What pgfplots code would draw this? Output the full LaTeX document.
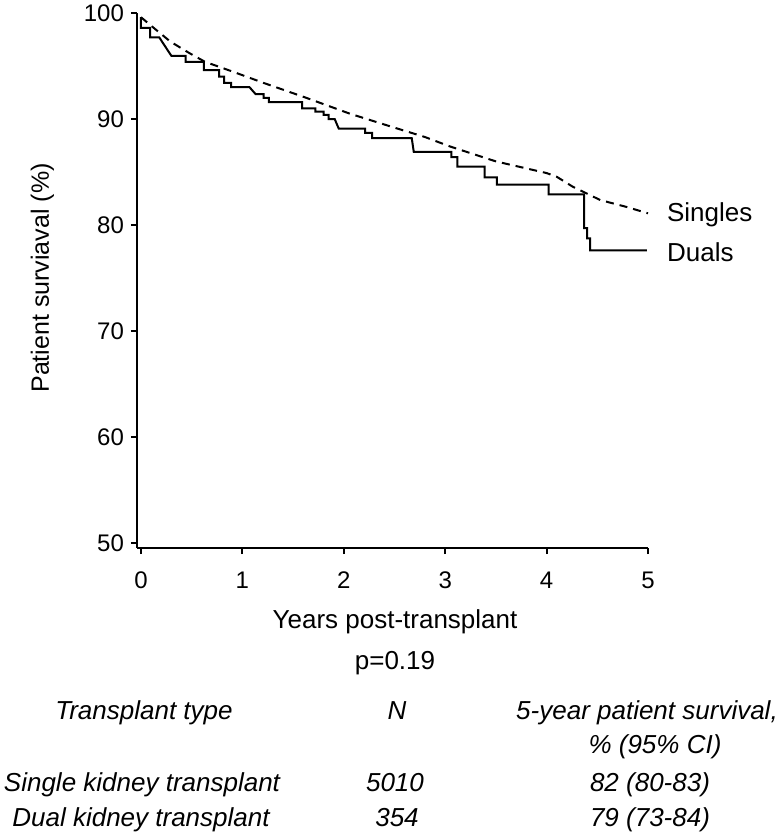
\documentclass[border=0pt]{standalone}
\usepackage{fontspec}
\setmainfont{Liberation Sans}
\usepackage{pgfplots}
\pgfplotsset{compat=1.18}
\begin{document}
\begin{tikzpicture}[font=\fontsize{13}{15.5}\selectfont]
\useasboundingbox (-68.5pt,-143.5pt) rectangle (321.5pt,274pt);
\begin{axis}[
  at={(0pt,0pt)}, anchor=south west,
  scale only axis, width=255.5pt, height=267.5pt,
  xmin=-0.0394, xmax=5, ymin=49.53, ymax=100,
  axis x line=bottom, axis y line=left,
  x axis line style={-}, y axis line style={-},
  axis line style={line width=0.9pt},
  xtick={0,1,2,3,4,5}, ytick={50,60,70,80,90,100},
  tick align=outside, major tick length=3pt,
  tick style={line width=0.9pt, black},
  tick label style={font=\fontsize{12}{14}\selectfont},
  xticklabel style={yshift=-5.5pt},
  /pgf/number format/assume math mode=true,
  clip=false,
]
\addplot[black, line width=1pt, dash pattern=on 4pt off 3pt] coordinates {
(0,99.6) (0.15,98.4) (0.29,97.3) (0.48,96.2) (0.63,95.4) (0.91,94.45) (1.21,93.4) (1.6,92.1) (2.06,90.5) (2.46,89.3) (2.8,88.3) (3.05,87.4) (3.5,86.0) (4.0,84.9) (4.1,84.55) (4.26,83.6) (4.39,83.0) (4.53,82.35) (4.79,81.7) (5.0,81.1)
};
\addplot[black, line width=1pt] coordinates {
(0,99.6) (0,98.6) (0.09,98.6) (0.09,97.7) (0.18,97.7) (0.30,95.95) (0.44,95.95) (0.44,95.4) (0.62,95.4) (0.62,94.6) (0.77,94.6) (0.77,94.0) (0.82,94.0) (0.82,93.4) (0.89,93.4) (0.89,93.0) (1.07,93.0) (1.13,92.35) (1.21,92.35) (1.21,92.0) (1.26,92.0) (1.26,91.6) (1.59,91.6) (1.59,91.0) (1.72,91.0) (1.72,90.7) (1.80,90.7) (1.80,90.4) (1.85,90.4) (1.85,90.0) (1.91,90.0) (1.95,89.1) (2.21,89.1) (2.21,88.7) (2.28,88.7) (2.28,88.2) (2.67,88.2) (2.69,86.9) (3.06,86.9) (3.06,86.4) (3.12,86.4) (3.12,85.5) (3.39,85.5) (3.39,84.5) (3.51,84.5) (3.51,83.8) (4.02,83.8) (4.02,82.9) (4.37,82.9) (4.37,79.7) (4.40,79.7) (4.40,78.75) (4.43,78.75) (4.43,77.6) (4.99,77.6)
};
\end{axis}
\node[rotate=90, font=\fontsize{12.5}{15}\selectfont] at (-47.25pt,135pt) {Patient surviaval (\%)};
\node[anchor=west] at (261.5pt,166.5pt) {Singles};
\node[anchor=west] at (261.5pt,148pt) {Duals};
\node at (129pt,-37pt) {Years post-transplant};
\node at (129pt,-57.5pt) {p=0.19};
\begin{scope}[font=\fontsize{13}{15.5}\selectfont\itshape, every node/.style={text height=9.5pt, text depth=2.8pt}]
\node at (3.5pt,-82.5pt) {Transplant type};
\node at (130pt,-82.5pt) {N};
\node at (255pt,-82.5pt) {5-year patient survival,};
\node at (259pt,-99.5pt) {\% (95\% CI)};
\node at (2.5pt,-118.5pt) {Single kidney transplant};
\node at (129pt,-118.5pt) {5010};
\node at (256.5pt,-118.5pt) {82 (80-83)};
\node at (2pt,-136pt) {Dual kidney transplant};
\node at (130pt,-136pt) {354};
\node at (256.5pt,-136pt) {79 (73-84)};
\end{scope}
\end{tikzpicture}
\end{document}
